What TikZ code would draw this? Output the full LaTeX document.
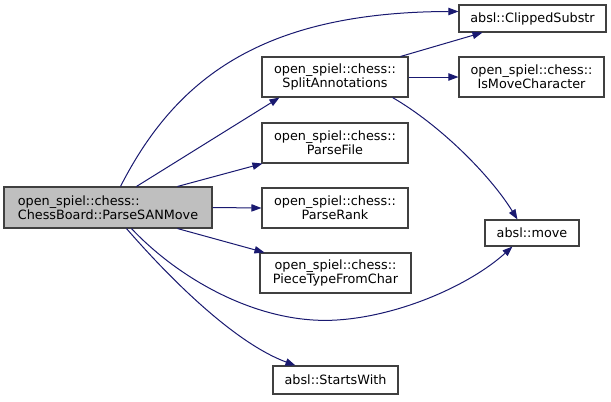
\documentclass[tikz,border=0pt]{standalone}
\usepackage{fontspec}
\setmainfont{DejaVu Sans}
\usetikzlibrary{arrows.meta,calc}
\definecolor{edgeblue}{HTML}{191970}
\definecolor{nodeborder}{HTML}{404040}
\definecolor{mainfill}{HTML}{BFBFBF}
\begin{document}
\begin{tikzpicture}[x=0.75pt,y=-0.75pt,
  box/.style={draw=nodeborder,line width=0.8pt,fill=white,inner sep=0pt,align=center,
    font=\fontsize{9.6}{10.6}\selectfont},
  mainbox/.style={box,fill=mainfill,align=left},
  arr/.style={draw=edgeblue,line width=0.75pt,-{Triangle[length=7.5pt,width=5.5pt]},color=edgeblue}]
\useasboundingbox (0,0) rectangle (611,401);
\node[mainbox,minimum width=156pt,minimum height=30.75pt] (main) at (108,207.5) {open\_spiel::chess::\\ChessBoard::ParseSANMove};
\node[box,minimum width=109.5pt,minimum height=30pt] (split) at (335,77) {open\_spiel::chess::\\SplitAnnotations};
\node[box,minimum width=108.75pt,minimum height=30pt] (ismove) at (531.5,77) {open\_spiel::chess::\\IsMoveCharacter};
\node[box,minimum width=110.25pt,minimum height=20.25pt] (clip) at (532.5,18.5) {absl::ClippedSubstr};
\node[box,minimum width=70.5pt,minimum height=19.5pt] (move) at (532,233) {absl::move};
\node[box,minimum width=109.5pt,minimum height=30pt] (file) at (335,143) {open\_spiel::chess::\\ParseFile};
\node[box,minimum width=109.5pt,minimum height=30pt] (rank) at (335,208) {open\_spiel::chess::\\ParseRank};
\node[box,minimum width=113.25pt,minimum height=30pt] (piece) at (335.5,273) {open\_spiel::chess::\\PieceTypeFromChar};
\node[box,minimum width=93.75pt,minimum height=21pt] (starts) at (335.5,380) {absl::StartsWith};
% edges from main
\draw[arr] ($(main.north west)+(117,0)$) .. controls (175,80) and (260,12) .. ($(clip.north west)+(0,7)$);
\draw[arr] ($(main.north west)+(133,0)$) -- ($(split.south west)+(18,0)$);
\draw[arr] ($(main.north west)+(174,0)$) -- ($(file.south west)+(1,0)$);
\draw[arr] (main.east) -- (rank.west);
\draw[arr] ($(main.south west)+(174,0)$) -- ($(piece.north west)+(5,0)$);
\draw[arr] ($(main.south west)+(128,0)$) .. controls (180,280) and (260,325) .. (337,320) .. controls (400,316) and (470,285) .. ($(move.south west)+(28,0)$);
\draw[arr] ($(main.south west)+(123,0)$) .. controls (180,290) and (240,345) .. ($(starts.north west)+(23,0)$);
% edges from split
\draw[arr] ($(split.north east)+(-8,0)$) -- ($(clip.south west)+(24,0)$);
\draw[arr] (split.east) -- (ismove.west);
\draw[arr] ($(split.south east)+(-16,0)$) .. controls (440,125) and (490,175) .. ($(move.north west)+(33,0)$);
\end{tikzpicture}
\end{document}
